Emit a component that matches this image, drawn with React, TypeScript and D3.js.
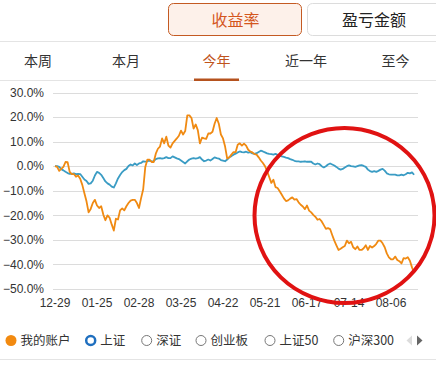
import React from "react";
import * as d3 from "d3";

const xLabels = ["12-29", "01-25", "02-28", "03-25", "04-22", "05-21", "06-17", "07-14", "08-06"];
const yTicks = [30, 20, 10, 0, -10, -20, -30, -40, -50];

const myAccount = [
  0, -0.3, -1.9, -1.1, -0.3, 1.7, 1.6, -2.3, -3.2, -3.2,
  -4.3, -3.8, -5.1, -7.6, -11, -14.3, -18.8, -17.4, -15, -13.7,
  -16, -17, -16.3, -19.7, -22, -20, -21, -23.7, -26.2, -21.4,
  -21.7, -18, -17.2, -18, -16.3, -15, -14, -13.7, -13.7, -15,
  -17, -13, -9.4, -0.3, 2.7, 2.7, 1.7, 1.7, 5.1, 7.1,
  8, 11.3, 9.3, 12, 8.4, 7.6, 9.3, 10.3, 11.3, 12.4,
  14.5, 12.9, 14.3, 20.7, 20.7, 19.6, 15.3, 17, 14.7, 9.3,
  11.6, 11.3, 11.1, 13.3, 13.3, 14, 17.3, 19.6, 17.3, 12.9,
  11.3, 8, 3.1, 3.6, 4.7, 5.7, 5.7, 8.7, 9.3, 8.4,
  9.2, 8.4, 6.7, 6, 5.6, 4.9, 4.7, 3.6, 2.3, 1.3,
  0, -2, -4.4, -6.8, -5.5, -8.5, -8.9, -10.2, -11.6, -13.1,
  -14.2, -13.9, -13.2, -12.7, -13.6, -13.4, -14.7, -15.7, -16.4, -17.5,
  -16, -18.1, -18.8, -19.8, -20.6, -21.8, -21.5, -22.5, -24, -25.5,
  -25.2, -25.6, -28, -30.3, -32.2, -34.1, -33.6, -33, -32.5, -30.3,
  -31.4, -30.8, -33, -33.8, -32.7, -34.1, -34.1, -33.4, -32.2, -34.1,
  -32.5, -33.1, -32.5, -31.6, -30.3, -30.3, -31.4, -33, -35.5, -37.1,
  -37.9, -37.9, -36.8, -38.2, -38.7, -39.6, -37.4, -37.6, -37.1, -38.5,
  -41.2, -43.4,
];

const shIndex = [
  0, 0, -0.3, -1.2, -1.7, -2.3, -2.8, -3.1, -3.1, -2.9,
  -3.2, -3.1, -3.2, -4.3, -5.4, -6, -7.2, -7, -5.9, -3.8,
  -2.3, -2.7, -3.5, -4.8, -6.2, -7, -7.5, -8.3, -8.7, -7,
  -5, -3.6, -2.4, -1.6, -1.1, 0.1, 0.7, 0.3, 1.1, 0.5,
  1.1, 1.3, 2, 1.9, 2, 2.3, 2, 2.1, 2.9, 3.2,
  3.3, 3.1, 3.3, 3.7, 3.3, 3.3, 4, 3.6, 3.2, 2.9,
  2.3, 1.7, 1.1, 2, 2.7, 3.1, 3.3, 3.1, 3.3, 3.7,
  2.7, 2, 2.3, 2.7, 2.3, 2.9, 3.6, 3.3, 3.1, 2.5,
  2.3, 2, 2.7, 3.6, 4.1, 4.7, 5.1, 5.6, 6, 5.7,
  5.6, 5.9, 5.5, 5.7, 5.2, 5.0, 5.3, 5.8, 6.3, 6.0,
  5.6, 5.2, 5.0, 4.9, 4.7, 5, 4.6, 4.2, 4, 3.8,
  3.5, 3.3, 2.9, 2.6, 2.2, 2, 2, 1.8, 1.9, 2,
  1.8, 1.9, 1.8, 1.1, 0.7, 1.1, 0.8, 0, -0.5, 0,
  0.7, 1.1, 0.7, 0.3, -0.3, -1, -1.4, -1.1, -0.5, 0,
  0.3, 0, -0.1, -0.3, 0, 0.3, 0.4, 0.1, -0.3, -1.4,
  -2, -2.3, -2, -2.3, -1.9, -1.4, -1.1, -1.8, -2.9, -3.3,
  -3.4, -3.4, -3.4, -3.7, -3.7, -3.4, -3.7, -3.3, -2.7, -2.9,
  -2.5, -3.5,
];

const topButtons = ["收益率", "盈亏金额"];
const tabs = ["本周", "本月", "今年", "近一年", "至今"];
const legendItems = ["我的账户", "上证", "深证", "创业板", "上证50", "沪深300"];

const LABEL_EVERY = 20;
const FONT = "'Liberation Sans', Arial, sans-serif";
const CJK = "'Noto Sans CJK SC', 'Liberation Sans', sans-serif";

export default function App() {
  const W = 436;
  const H = 368;
  const plotLeft = 53;
  const plotRight = 418;
  const x = d3
    .scaleLinear()
    .domain([0, myAccount.length - 1])
    .range([55, 55 + 2.1 * (myAccount.length - 1)]);
  const y = d3.scaleLinear().domain([-50, 30]).range([289, 92.5]);
  const line = d3
    .line<number>()
    .x((_, i) => x(i))
    .y((d) => y(d))
    .curve(d3.curveLinear);

  const tabX = [38, 126, 216.5, 306, 395.5];
  const legendCircleX = [11, 90.7, 146.7, 201, 270, 338.7];

  return (
    <svg
      width={W}
      height={H}
      style={{ position: "absolute", left: 0, top: 0, background: "#fff" }}
    >
      {/* top buttons */}
      <rect x={168.5} y={3.5} width={133} height={32} rx={5} fill="#fdf1ea" stroke="#c45a22" strokeWidth={1} />
      <text x={235.5} y={26} textAnchor="middle" fontSize={16} fontFamily={CJK} fill="#d4561c">
        {topButtons[0]}
      </text>
      <rect x={307.5} y={3.5} width={140} height={32} rx={5} fill="#fff" stroke="#dcdcdc" strokeWidth={1} />
      <text x={374} y={26} textAnchor="middle" fontSize={16} fontFamily={CJK} fill="#222">
        {topButtons[1]}
      </text>
      <line x1={0} x2={W} y1={41.5} y2={41.5} stroke="#e4e4e4" strokeWidth={1} />

      {/* tabs */}
      {tabs.map((t, i) => (
        <text
          key={t}
          x={tabX[i]}
          y={65.5}
          textAnchor="middle"
          fontSize={14}
          fontFamily={CJK}
          fill={i === 2 ? "#c0531b" : "#333"}
        >
          {t}
        </text>
      ))}
      <line x1={0} x2={W} y1={80.5} y2={80.5} stroke="#e4e4e4" strokeWidth={1} />
      <rect x={194} y={78.5} width={45} height={2.5} fill="#b5521e" />

      {/* grid + y labels */}
      {yTicks.map((t) => (
        <g key={t}>
          <line x1={plotLeft} x2={plotRight} y1={Math.round(y(t)) + 0.5} y2={Math.round(y(t)) + 0.5} stroke="#dcdcdc" strokeWidth={1} />
          <text x={44} y={y(t) + 4.3} textAnchor="end" fontSize={12} fontFamily={FONT} fill="#333">
            {d3.format(".1f")(t)}%
          </text>
        </g>
      ))}

      {/* x labels */}
      {xLabels.map((l, i) => (
        <text key={l} x={x(i * LABEL_EVERY)} y={307} textAnchor="middle" fontSize={12} fontFamily={FONT} fill="#333">
          {l}
        </text>
      ))}

      {/* lines */}
      <path d={line(shIndex) || ""} fill="none" stroke="#3a9cc4" strokeWidth={1.8} strokeLinejoin="round" />
      <path d={line(myAccount) || ""} fill="none" stroke="#f08a12" strokeWidth={1.8} strokeLinejoin="round" />

      {/* red annotation circle */}
      <ellipse cx={344.5} cy={215.5} rx={90} ry={87.5} fill="none" stroke="#e01212" strokeWidth={4} />

      {/* legend */}
      {legendItems.map((l, i) => {
        const cx = legendCircleX[i];
        return (
          <g key={l}>
            {i === 0 ? (
              <circle cx={cx} cy={340.5} r={5.5} fill="#f28a10" />
            ) : i === 1 ? (
              <circle cx={cx} cy={340.5} r={4.5} fill="#fff" stroke="#1f6fbf" strokeWidth={2.5} />
            ) : (
              <circle cx={cx} cy={340.5} r={5} fill="#fff" stroke="#777" strokeWidth={1} />
            )}
            <text x={cx + 9.5} y={345} fontSize={12.5} fontFamily={CJK} fill="#333">
              {l}
            </text>
          </g>
        );
      })}
      <path d="M412,335.5 L412,345.5 L406.5,340.5 Z" fill="#dcdcdc" />
      <path d="M417,335.5 L417,345.5 L422.5,340.5 Z" fill="#666" />
      <line x1={0} x2={W} y1={359.5} y2={359.5} stroke="#e4e4e4" strokeWidth={1} />
    </svg>
  );
}
